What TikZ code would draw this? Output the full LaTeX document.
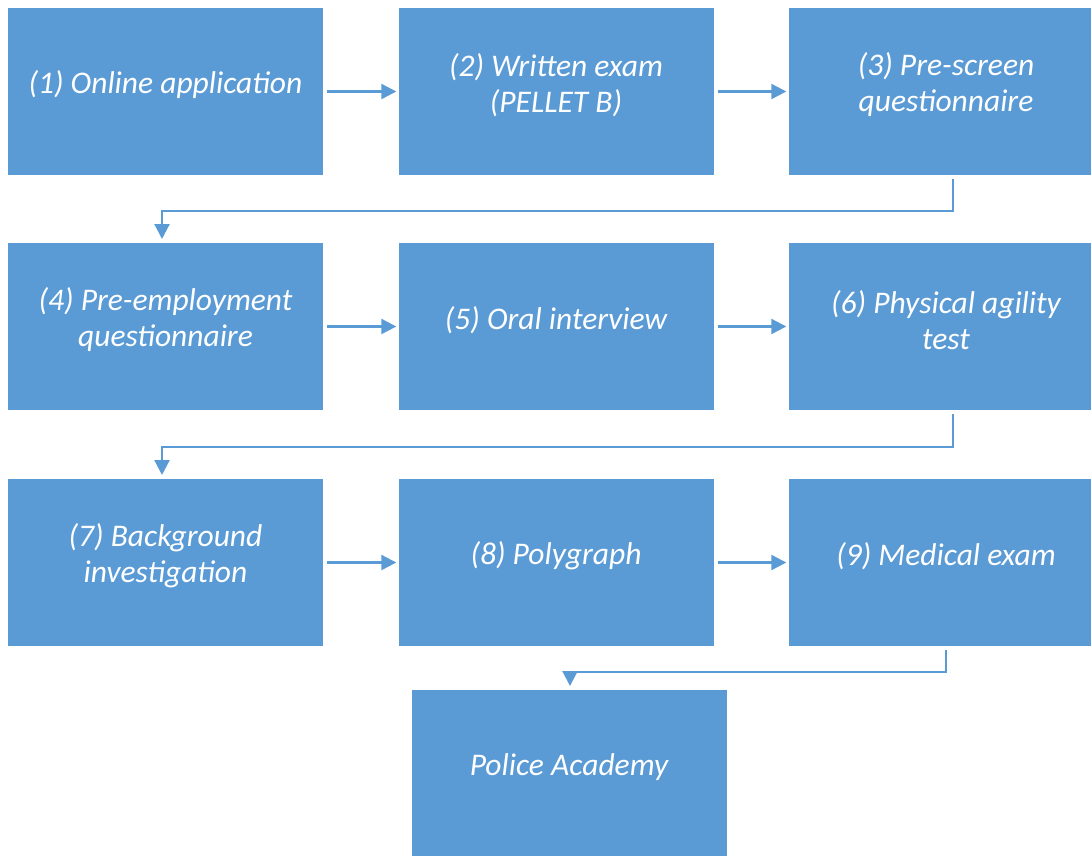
\documentclass[tikz,border=0pt]{standalone}
\usepackage{fontspec}
\setmainfont{Carlito}
\usetikzlibrary{arrows.meta}
\definecolor{boxblue}{HTML}{5B9BD5}
\begin{document}
\begin{tikzpicture}[x=1pt,y=-1pt,
  box/.style={fill=boxblue, draw=none, minimum width=315pt, minimum height=167pt, inner sep=0pt},
  txt/.style={text=white, align=center, font=\fontsize{31.5}{36}\selectfont\itshape, inner sep=0pt},
  arr/.style={draw=boxblue, line width=2.2pt, -{Triangle[length=15pt,width=15pt]}}]
\clip (0,0) rectangle (1091,855);
\fill[white] (0,0) rectangle (1091,855);
% boxes
\node[box] (b1) at (165.5,91.5) {};
\node[box] (b2) at (556,91.5) {};
\node[box] (b3) at (946,91.5) {};
\node[box] (b4) at (165.5,326.5) {};
\node[box] (b5) at (556,326.5) {};
\node[box] (b6) at (946,326.5) {};
\node[box] (b7) at (165.5,562.5) {};
\node[box] (b8) at (556,562.5) {};
\node[box] (b9) at (946,562.5) {};
\node[box] (b10) at (569,773.5) {};
% texts
\node[txt] (t1) at (165.5,85) {(1) Online application};
\node[txt] (t2) at (556,85) {(2) Written exam\\(PELLET B)};
\node[txt] (t3) at (946,85) {(3) Pre-screen\\questionnaire};
\node[txt] (t4) at (165.5,320) {(4) Pre-employment\\questionnaire};
\node[txt] (t5) at (556,320) {(5) Oral interview};
\node[txt] (t6) at (946,320) {(6) Physical agility\\test};
\node[txt] (t7) at (165.5,556) {(7) Background\\investigation};
\node[txt] (t8) at (556,556) {(8) Polygraph};
\node[txt] (t9) at (946,556) {(9) Medical exam};
\node[txt] (t10) at (569,767) {Police Academy};
% horizontal arrows
\draw[arr] ([xshift=4pt]b1.east) -- ([xshift=-2pt]b2.west);
\draw[arr] ([xshift=4pt]b2.east) -- ([xshift=-2pt]b3.west);
\draw[arr] ([xshift=4pt]b4.east) -- ([xshift=-2pt]b5.west);
\draw[arr] ([xshift=4pt]b5.east) -- ([xshift=-2pt]b6.west);
\draw[arr] ([xshift=4pt]b7.east) -- ([xshift=-2pt]b8.west);
\draw[arr] ([xshift=4pt]b8.east) -- ([xshift=-2pt]b9.west);
% elbow connectors
\coordinate (s1) at (953,179);
\coordinate (k1) at (162,211);
\coordinate (e1) at (162,239);
\draw[arr] (s1) |- (k1) -- (e1);
\coordinate (s2) at (953,414);
\coordinate (k2) at (162,447);
\coordinate (e2) at (162,475);
\draw[arr] (s2) |- (k2) -- (e2);
\coordinate (s3) at (946,650);
\coordinate (k3) at (570,672);
\coordinate (e3) at (570,686);
\draw[arr] (s3) |- (k3) -- (e3);
\end{tikzpicture}
\end{document}
